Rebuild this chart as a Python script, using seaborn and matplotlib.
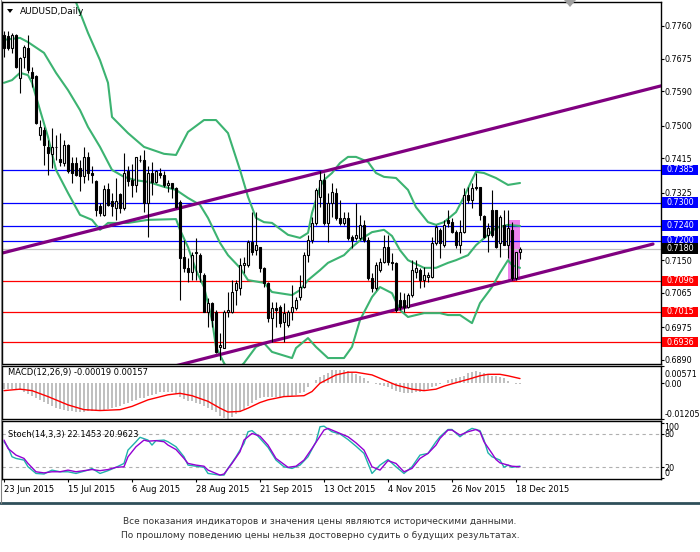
import numpy as np
import matplotlib
matplotlib.use("Agg")
import matplotlib.pyplot as plt
import matplotlib.transforms as mtransforms
from matplotlib.patches import Rectangle, Polygon
from matplotlib.lines import Line2D
import seaborn as sns

sns.set_style("white")
plt.rcParams["font.family"] = ["DejaVu Sans"]

# ---------------- data (AUDUSD daily, 23 Jun 2015 .. 21 Dec 2015) ----------------
opens = [0.7737,0.7734,0.7702,0.7737,0.7624,0.7679,0.7702,0.7641,0.7630,0.7476,
         0.7490,0.7446,0.7427,0.7445,0.7413,0.7403,0.7450,0.7403,0.7403,0.7390,
         0.7368,0.7420,0.7377,0.7355,0.7290,0.7268,0.7335,0.7303,0.7286,0.7322,
         0.7286,0.7381,0.7360,0.7346,0.7412,0.7411,0.7298,0.7376,0.7354,0.7378,
         0.7372,0.7346,0.7350,0.7337,0.7302,0.7159,0.7129,0.7120,0.7168,0.7164,
         0.7111,0.7016,0.7038,0.7016,0.6925,0.6921,0.7016,0.7016,0.7072,0.7077,
         0.7137,0.7137,0.7198,0.7177,0.7185,0.7129,0.7090,0.6999,0.7025,0.7029,
         0.6990,0.6981,0.7016,0.7025,0.7055,0.7081,0.7164,0.7203,0.7246,0.7315,
         0.7359,0.7246,0.7298,0.7324,0.7259,0.7246,0.7259,0.7211,0.7207,0.7207,
         0.7242,0.7203,0.7103,0.7077,0.7124,0.7146,0.7185,0.7146,0.7142,0.7046,
         0.7046,0.7029,0.7059,0.7120,0.7124,0.7098,0.7107,0.7107,0.7194,0.7229,
         0.7190,0.7255,0.7250,0.7224,0.7190,0.7224,0.7320,0.7307,0.7341,0.7341,
         0.7265,0.7216,0.7281,0.7281,0.7194,0.7242,0.7190,0.7229,0.7103,0.7170]
highs = [0.7746,0.7746,0.7741,0.7740,0.7680,0.7711,0.7737,0.7654,0.7633,0.7516,
         0.7498,0.7463,0.7494,0.7476,0.7481,0.7463,0.7452,0.7420,0.7420,0.7411,
         0.7446,0.7433,0.7394,0.7359,0.7299,0.7346,0.7351,0.7325,0.7364,0.7325,
         0.7429,0.7394,0.7400,0.7420,0.7424,0.7437,0.7394,0.7407,0.7385,0.7389,
         0.7381,0.7359,0.7350,0.7341,0.7307,0.7203,0.7155,0.7172,0.7207,0.7168,
         0.7116,0.7051,0.7042,0.7020,0.6960,0.7020,0.7068,0.7098,0.7098,0.7155,
         0.7159,0.7203,0.7276,0.7276,0.7185,0.7133,0.7094,0.7042,0.7042,0.7033,
         0.7038,0.7020,0.7085,0.7055,0.7111,0.7172,0.7216,0.7263,0.7337,0.7381,
         0.7376,0.7324,0.7350,0.7337,0.7307,0.7276,0.7276,0.7216,0.7298,0.7268,
         0.7255,0.7211,0.7116,0.7146,0.7155,0.7216,0.7216,0.7168,0.7146,0.7068,
         0.7064,0.7064,0.7150,0.7150,0.7129,0.7133,0.7120,0.7211,0.7242,0.7233,
         0.7255,0.7281,0.7259,0.7229,0.7255,0.7337,0.7341,0.7350,0.7376,0.7341,
         0.7268,0.7246,0.7333,0.7281,0.7268,0.7281,0.7281,0.7250,0.7172,0.7185]
lows = [0.7680,0.7698,0.7690,0.7650,0.7585,0.7650,0.7637,0.7602,0.7505,0.7463,
        0.7398,0.7372,0.7390,0.7411,0.7394,0.7394,0.7377,0.7351,0.7368,0.7329,
        0.7351,0.7359,0.7351,0.7264,0.7264,0.7264,0.7290,0.7264,0.7255,0.7273,
        0.7281,0.7342,0.7315,0.7328,0.7407,0.7276,0.7211,0.7320,0.7350,0.7363,
        0.7341,0.7328,0.7311,0.7285,0.7046,0.7120,0.7094,0.7098,0.7098,0.7094,
        0.7016,0.6977,0.6977,0.6907,0.6890,0.6921,0.7003,0.7012,0.7033,0.7059,
        0.7116,0.7133,0.7164,0.7164,0.7120,0.7081,0.6990,0.6938,0.6977,0.6977,
        0.6938,0.6977,0.6994,0.7020,0.7046,0.7077,0.7146,0.7194,0.7242,0.7289,
        0.7242,0.7198,0.7263,0.7255,0.7242,0.7242,0.7203,0.7181,0.7203,0.7203,
        0.7198,0.7098,0.7068,0.7072,0.7120,0.7142,0.7137,0.7124,0.7016,0.7020,
        0.7016,0.7025,0.7055,0.7103,0.7077,0.7081,0.7094,0.7103,0.7190,0.7155,
        0.7185,0.7237,0.7220,0.7181,0.7168,0.7220,0.7298,0.7285,0.7333,0.7255,
        0.7207,0.7172,0.7211,0.7181,0.7159,0.7190,0.7155,0.7098,0.7098,0.7152]
closes = [0.7702,0.7702,0.7737,0.7654,0.7676,0.7705,0.7646,0.7624,0.7507,0.7496,
          0.7450,0.7429,0.7446,0.7446,0.7405,0.7450,0.7381,0.7377,0.7372,0.7368,
          0.7420,0.7377,0.7372,0.7281,0.7272,0.7335,0.7294,0.7290,0.7303,0.7286,
          0.7377,0.7355,0.7345,0.7420,0.7410,0.7298,0.7376,0.7354,0.7381,0.7372,
          0.7346,0.7350,0.7337,0.7289,0.7155,0.7129,0.7120,0.7164,0.7172,0.7120,
          0.7016,0.7038,0.6994,0.6912,0.6929,0.7016,0.7020,0.7068,0.7090,0.7137,
          0.7142,0.7198,0.7172,0.7190,0.7129,0.7090,0.6999,0.7025,0.7020,0.6986,
          0.7012,0.7016,0.7029,0.7046,0.7081,0.7164,0.7203,0.7246,0.7333,0.7359,
          0.7246,0.7298,0.7328,0.7259,0.7246,0.7259,0.7207,0.7203,0.7216,0.7242,
          0.7203,0.7103,0.7077,0.7137,0.7146,0.7185,0.7146,0.7142,0.7020,0.7029,
          0.7029,0.7059,0.7124,0.7129,0.7098,0.7111,0.7111,0.7194,0.7237,0.7194,
          0.7242,0.7246,0.7224,0.7190,0.7224,0.7320,0.7307,0.7337,0.7337,0.7268,
          0.7211,0.7233,0.7216,0.7185,0.7263,0.7190,0.7233,0.7103,0.7172,0.7180]

# Bollinger bands
bb_up_idx = [0, 4, 7, 10, 13, 16, 18, 21, 24, 26, 27, 31, 35, 40, 43, 46, 50, 53, 56, 59,
             61, 63, 65, 67, 71, 74, 76, 77, 79, 80, 82, 84, 86, 88, 91, 93, 95, 98, 101, 103,
             106, 108, 110, 113, 115, 117, 118, 120, 123, 126, 129]
bb_up = [0.7826, 0.7825, 0.7832, 0.7880, 0.7920, 0.7890, 0.7822, 0.7742, 0.7671, 0.7612,
         0.7523, 0.7481, 0.7445, 0.7427, 0.7424, 0.7484, 0.7515, 0.7515, 0.7481, 0.7385,
         0.7315, 0.7260, 0.7249, 0.7247, 0.7216, 0.7208, 0.7221, 0.7273, 0.7341, 0.7359,
         0.7377, 0.7403, 0.7419, 0.7419, 0.7406, 0.7377, 0.7367, 0.7364, 0.7333, 0.7288,
         0.7249, 0.7242, 0.7249, 0.7275, 0.7315, 0.7359, 0.7380, 0.7377, 0.7364, 0.7346,
         0.7351]
bb_mid_idx = [0, 4, 6, 10, 13, 16, 19, 21, 24, 27, 30, 33, 36, 40, 43, 46, 49, 51, 54, 56,
              59, 61, 65, 67, 72, 74, 76, 79, 81, 85, 87, 90, 92, 95, 97, 99, 101, 105, 108, 111,
              113, 116, 118, 121, 123, 126, 129]
bb_mid = [0.7724, 0.7729, 0.7718, 0.7690, 0.7638, 0.7593, 0.7541, 0.7497, 0.7445, 0.7385,
          0.7367, 0.7358, 0.7354, 0.7341, 0.7333, 0.7312, 0.7294, 0.7260, 0.7195, 0.7163,
          0.7130, 0.7098, 0.7091, 0.7067, 0.7059, 0.7072, 0.7098, 0.7124, 0.7143, 0.7163,
          0.7184, 0.7210, 0.7223, 0.7229, 0.7213, 0.7176, 0.7150, 0.7130, 0.7130, 0.7143,
          0.7150, 0.7163, 0.7189, 0.7216, 0.7234, 0.7242, 0.7239]
bb_lo_idx = [0, 2, 4, 6, 7, 9, 11, 13, 16, 19, 22, 24, 26, 31, 36, 43, 44, 46, 48, 50,
             52, 53, 55, 57, 60, 63, 65, 67, 72, 73, 76, 78, 81, 85, 87, 89, 92, 94, 97, 99,
             101, 105, 109, 111, 114, 117, 119, 122, 124, 126, 127, 129]
bb_lo = [0.7612, 0.7619, 0.7638, 0.7632, 0.7612, 0.7541, 0.7471, 0.7385, 0.7325, 0.7268,
         0.7255, 0.7229, 0.7247, 0.7247, 0.7255, 0.7257, 0.7229, 0.7184, 0.7124, 0.7080,
         0.6994, 0.6924, 0.6882, 0.6850, 0.6882, 0.6924, 0.6934, 0.6911, 0.6895, 0.6921,
         0.6947, 0.6924, 0.6895, 0.6895, 0.6924, 0.6994, 0.7054, 0.7080, 0.7064, 0.7020,
         0.7002, 0.7012, 0.7012, 0.7007, 0.7007, 0.6986, 0.7038, 0.7080, 0.7117, 0.7150,
         0.7137, 0.7130]

# trend channel lines (bar index, price)
trend_up_x = [-0.25, 164.25]
trend_up_y = [0.7169, 0.7604]
trend_lo_x = [40.0, 162.25]
trend_lo_y = [0.6867, 0.7192]

# horizontal levels
blue_levels = [0.7385, 0.7300, 0.7240, 0.7200]
red_levels = [0.7096, 0.7015, 0.6936]
last_price = 0.7180

# highlight rectangle
rect_x = [126.0, 129.0]
rect_y = [0.7098, 0.7255]

# MACD(12,26,9)
macd_hist = [-0.0018,-0.0019,-0.0020,-0.0021,-0.0023,-0.0029,-0.0035,-0.0042,-0.0049,-0.0057,
             -0.0064,-0.0070,-0.0077,-0.0082,-0.0086,-0.0089,-0.0093,-0.0095,-0.0097,-0.0097,
             -0.0096,-0.0095,-0.0093,-0.0094,-0.0093,-0.0090,-0.0086,-0.0083,-0.0079,-0.0077,
             -0.0071,-0.0066,-0.0061,-0.0057,-0.0051,-0.0049,-0.0044,-0.0039,-0.0035,-0.0031,
             -0.0029,-0.0029,-0.0031,-0.0035,-0.0046,-0.0054,-0.0059,-0.0061,-0.0066,-0.0070,
             -0.0077,-0.0084,-0.0090,-0.0098,-0.0110,-0.0116,-0.0120,-0.0114,-0.0104,-0.0096,
             -0.0088,-0.0077,-0.0066,-0.0057,-0.0050,-0.0048,-0.0047,-0.0046,-0.0046,-0.0045,
             -0.0045,-0.0043,-0.0042,-0.0038,-0.0034,-0.0028,-0.0013,0.0002,0.0011,0.0022,
             0.0029,0.0036,0.0043,0.0045,0.0046,0.0045,0.0040,0.0036,0.0031,0.0025,
             0.0017,0.0009,0.0002,-0.0002,-0.0006,-0.0009,-0.0013,-0.0020,-0.0025,-0.0029,
             -0.0032,-0.0034,-0.0034,-0.0031,-0.0028,-0.0025,-0.0020,-0.0013,-0.0009,-0.0004,
             0.0002,0.0011,0.0015,0.0018,0.0022,0.0026,0.0034,0.0039,0.0040,0.0039,
             0.0036,0.0031,0.0026,0.0023,0.0020,0.0016,0.0009,0.0002,-0.0001,-0.00019]
macd_sig_idx = [0, 4, 7, 11, 16, 20, 24, 29, 32, 36, 41, 44, 47, 51, 54, 56, 59, 61, 64, 66,
                70, 75, 77, 79, 83, 86, 88, 92, 95, 98, 102, 105, 108, 110, 112, 116, 119, 121,
                124, 126, 129]
macd_sig = [-0.0025, -0.0020, -0.0025, -0.0045, -0.0073, -0.0089, -0.0092, -0.0089, -0.0078,
            -0.0056, -0.0039, -0.0034, -0.0042, -0.0061, -0.0084, -0.0097, -0.0095, -0.0084,
            -0.0065, -0.0056, -0.0045, -0.0042, -0.0028, 0.0000, 0.0028, 0.0037, 0.0037,
            0.0028, 0.0011, -0.0006, -0.0020, -0.0025, -0.0020, -0.0010, -0.0002, 0.0013,
            0.0025, 0.0030, 0.0030, 0.0025, 0.00157]

# Stochastic(14,3,3)
stoch_k_idx = [0,1,2,3,5,6,8,10,12,14,16,18,21,22,24,26,28,30,31,33,34,36,37,38,40,41,43,45,
               46,48,50,51,54,55,56,58,60,61,62,63,64,66,68,70,72,74,76,78,79,80,82,84,86,88,
               90,92,94,96,98,100,102,104,106,108,109,111,112,114,116,117,119,120,121,122,124,
               125,126,127,129]
stoch_k = [66,56,39,36,33,21,9,8,15,12,12,9,15,18,9,14,20,27,51,66,74,69,60,68,69,66,57,39,
           24,22,20,9,6,6,18,39,63,84,86,80,72,56,33,21,18,24,39,66,93,94,84,80,70,58,45,9,
           24,34,21,9,21,42,45,66,75,88,88,75,86,90,86,69,46,39,33,20,24,20,22.1453]
stoch_d_idx = [0,1,3,5,6,8,10,12,14,16,18,21,22,24,26,28,30,31,33,35,36,38,40,41,43,45,46,48,
               50,51,54,55,57,59,60,62,64,66,68,71,73,75,77,80,81,83,86,88,90,92,94,96,98,100,
               102,104,106,108,109,111,112,114,116,118,119,120,122,123,124,125,127,129]
stoch_d = [69,54,42,36,27,12,10,12,12,15,12,15,16,14,16,20,21,39,57,69,67,68,66,60,52,36,27,
           24,22,15,6,8,27,48,69,81,76,60,36,20,22,33,54,87,90,84,75,64,51,21,15,32,27,12,18,
           36,45,60,72,87,87,78,84,88,84,66,45,34,28,26,22,20.9623]

date_idx = [0, 16, 32, 48, 64, 80, 96, 112, 128]
date_labels = ["23 Jun 2015", "15 Jul 2015", "6 Aug 2015", "28 Aug 2015", "21 Sep 2015",
               "13 Oct 2015", "4 Nov 2015", "26 Nov 2015", "18 Dec 2015"]
price_ticks = [0.7760, 0.7675, 0.7590, 0.7500, 0.7415, 0.7325, 0.7150, 0.7065, 0.6975, 0.6890]

title_text = "AUDUSD,Daily"
macd_text = "MACD(12,26,9) -0.00019 0.00157"
stoch_text = "Stoch(14,3,3) 22.1453 20.9623"
disclaimer = ["Все показания индикаторов и значения цены являются историческими данными.",
              "По прошлому поведению цены нельзя достоверно судить о будущих результатах."]

# ---------------- figure ----------------
W, H = 700, 552
fig = plt.figure(figsize=(W / 100, H / 100), dpi=100)
fig.patch.set_facecolor("white")

def fx(px):
    return px / W

def fy(py):
    return 1 - py / H

ax = fig.add_axes([fx(2), fy(364), fx(659), 362 / H])
axm = fig.add_axes([fx(2), fy(419), fx(659), 53 / H])
axs = fig.add_axes([fx(2), fy(479), fx(659), 58 / H])

XL = (-0.5, 164.25)
for a in (ax, axm, axs):
    a.set_xlim(*XL)
    a.set_facecolor("white")
    for s in a.spines.values():
        s.set_color("black")
        s.set_linewidth(1.0)
    a.tick_params(axis="y", which="both", left=False, right=True, labelleft=False,
                  labelright=True, length=2.0, width=0.8, pad=0.6, labelsize=5.8,
                  colors="black")
    a.grid(False)

# ---- main price panel ----
ax.set_ylim(0.68795, 0.78225)
o = np.array(opens); h = np.array(highs); l = np.array(lows); c = np.array(closes)
idx = np.arange(len(c))

ax.add_patch(Rectangle((rect_x[0], rect_y[0]), rect_x[1] - rect_x[0], rect_y[1] - rect_y[0],
                       facecolor="#EE82EE", edgecolor="none", zorder=0.5))

for v in blue_levels:
    ax.axhline(v, color="#0000FF", lw=0.9, zorder=1)
for v in red_levels:
    ax.axhline(v, color="#FF0000", lw=0.9, zorder=1)
ax.axhline(last_price, color="#C0C0C0", lw=0.9, zorder=1)

band_col = "#3CB371"
for xs, ys in ((bb_up_idx, bb_up), (bb_mid_idx, bb_mid), (bb_lo_idx, bb_lo)):
    sns.lineplot(x=xs, y=ys, ax=ax, color=band_col, lw=1.5, estimator=None, sort=False,
                 zorder=2)

sns.lineplot(x=trend_up_x, y=trend_up_y, ax=ax, color="#800080", lw=2.3, estimator=None,
             sort=False, zorder=2.5)
sns.lineplot(x=trend_lo_x, y=trend_lo_y, ax=ax, color="#800080", lw=2.3, estimator=None,
             sort=False, zorder=2.5)

ax.vlines(idx, l, h, color="black", lw=0.8, zorder=3)
up = c >= o
ax.bar(idx[up], (c - o)[up], bottom=o[up], width=0.5, facecolor="white",
       edgecolor="black", lw=0.8, zorder=4)
ax.bar(idx[~up], (o - c)[~up], bottom=c[~up], width=0.5, facecolor="black",
       edgecolor="black", lw=0.8, zorder=4)

ax.set_xticks([])
ax.set_yticks(price_ticks)
ax.set_yticklabels([f"{v:.4f}" for v in price_ticks])
ax.set_xlabel(""); ax.set_ylabel("")

trans = mtransforms.blended_transform_factory(ax.transAxes, ax.transData)
boxes = [(v, "#0000FF") for v in blue_levels] + [(v, "#FF0000") for v in red_levels] + \
        [(last_price, "#000000")]
bh = 0.0027
for v, col in boxes:
    ax.add_patch(Rectangle((1.0015, v - bh / 2), 0.0546, bh, transform=trans,
                           facecolor=col, edgecolor="none", clip_on=False, zorder=10))
    ax.text(1.0288, v, f"{v:.4f}", transform=trans, ha="center", va="center",
            color="white", fontsize=5.8, clip_on=False, zorder=11)

# ---- MACD panel ----
axm.set_ylim(-0.0120, 0.0058)
axm.bar(idx, macd_hist, width=0.5, color="#C0C0C0", edgecolor="none", zorder=1)
sns.lineplot(x=macd_sig_idx, y=macd_sig, ax=axm, color="#FF0000", lw=1.0, estimator=None,
             sort=False, zorder=2)
axm.set_xticks([])
axm.set_yticks([0.00571, 0.0, -0.01205])
axm.set_yticklabels(["0.00571", "0.00", "-0.01205"])
tl = axm.get_yticklabels()
tl[0].set_va("top"); tl[2].set_va("bottom")
tl[0].set_transform(tl[0].get_transform() +
                    mtransforms.ScaledTranslation(0, -2.5 / 72, fig.dpi_scale_trans))
axm.set_xlabel(""); axm.set_ylabel("")

# ---- Stochastic panel ----
axs.set_ylim(-1, 103.3)
for lv in (80, 20):
    axs.axhline(lv, color="#B0B0B0", lw=0.8, ls=(0, (3, 3)), zorder=1)
sns.lineplot(x=stoch_k_idx, y=stoch_k, ax=axs, color="#20B2AA", lw=1.0, estimator=None,
             sort=False, zorder=2)
sns.lineplot(x=stoch_d_idx, y=stoch_d, ax=axs, color="#9400D3", lw=1.0, estimator=None,
             sort=False, zorder=3)
axs.set_yticks([100, 80, 20, 0])
axs.set_yticklabels(["100", "80", "20", "0"])
tl = axs.get_yticklabels()
tl[0].set_va("top"); tl[3].set_va("bottom")
axs.set_xticks(date_idx)
axs.set_xticklabels(date_labels, ha="left")
axs.tick_params(axis="x", bottom=True, length=2.5, width=0.8, pad=1.5, labelsize=6,
                colors="black")
axs.set_xlabel(""); axs.set_ylabel("")

# ---- texts and decorations ----
fig.text(fx(20), fy(11), title_text, fontsize=6.5, va="center", ha="left", color="#000000")
fig.patches.append(Polygon([(fx(7), fy(9)), (fx(13), fy(9)), (fx(10), fy(13))],
                           closed=True, transform=fig.transFigure, facecolor="black",
                           edgecolor="none"))
fig.patches.append(Polygon([(fx(564), fy(0)), (fx(576), fy(0)), (fx(570), fy(7))],
                           closed=True, transform=fig.transFigure, facecolor="#A0A0A0",
                           edgecolor="none", zorder=20))
fig.text(fx(8), fy(373), macd_text, fontsize=6, va="center", ha="left", color="black")
fig.text(fx(8), fy(435), stoch_text, fontsize=6, va="center", ha="left", color="black")

fig.add_artist(Line2D([0, 1], [fy(503), fy(503)], transform=fig.transFigure,
                      color="#2F4F5A", lw=2.0))
fig.add_artist(Line2D([fx(0.5), fx(0.5)], [fy(0), fy(503)], transform=fig.transFigure,
                      color="#808080", lw=0.8))

fig.text(fx(320), fy(522), disclaimer[0], fontsize=6.5, ha="center", va="center",
         color="#333333")
fig.text(fx(320), fy(535), disclaimer[1], fontsize=6.5, ha="center", va="center",
         color="#333333")

fig.savefig("out.png", dpi=100, facecolor="white")
